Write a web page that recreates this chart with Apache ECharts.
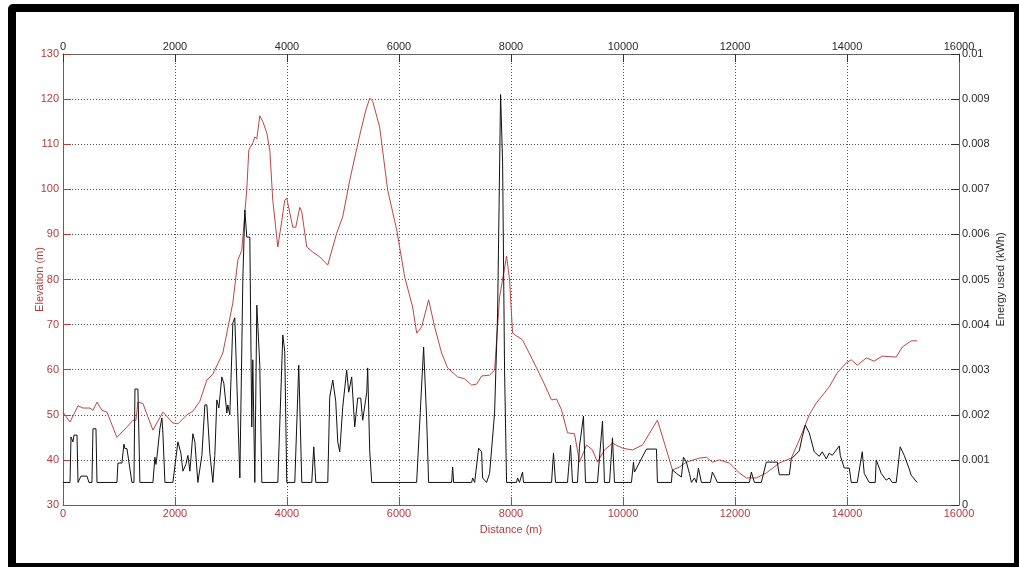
<!DOCTYPE html>
<html>
<head>
<meta charset="utf-8">
<script src="https://cdn.jsdelivr.net/npm/echarts@6/dist/echarts.min.js"></script>
<style>
  html, body { margin: 0; padding: 0; background: #fff; }
  #chart { position: absolute; left: 0; top: 0; width: 1019px; height: 568px; }
  #frame {
    position: absolute; left: 8px; top: 4px; width: 1011px; height: 563px;
    box-sizing: border-box; border-style: solid; border-color: #000;
    border-width: 8px 5px 4px 8px; border-radius: 5px 0 0 0; pointer-events: none;
  }
</style>
</head>
<body>
<div id="chart"></div>
<div id="frame"></div>
<script>
// Elevation profile along the route (distance in m, elevation in m)
const elevDist = [0,125,268,357,482,535,607,696,785,963,1142,1249,1302,1338,1427,1606,1784,1962,2052,2212,2319,2444,2569,2676,2854,3033,3122,3193,3282,3318,3390,3425,3461,3514,3568,3639,3693,3746,3836,3907,3960,3996,4103,4157,4228,4264,4353,4460,4585,4728,4888,4995,5120,5299,5406,5478,5530,5655,5798,5959,6101,6244,6316,6405,6529,6636,6761,6868,7047,7172,7297,7386,7475,7618,7707,7796,7921,7975,8028,8206,8385,8563,8724,8813,8902,9009,9134,9223,9348,9455,9544,9669,9812,9990,10169,10347,10615,10740,10882,11007,11132,11364,11489,11596,11721,11899,12078,12203,12381,12559,12791,13005,13148,13326,13451,13683,13826,13987,14076,14183,14343,14486,14629,14879,14986,15146,15253];
const elevation = [50.6,48.4,52.0,51.5,51.5,51.0,52.8,51.0,50.6,45.0,47.3,48.8,48.8,52.8,52.5,46.6,50.6,48.2,48.0,50.0,50.8,53.0,57.7,59.0,63.7,74.8,84.3,86.5,100.0,108.7,110.3,111.6,111.2,116.3,115.0,112.5,108.7,97.6,87.2,93.0,97.6,98.0,91.6,91.6,96.0,95.0,87.2,86.1,85.0,83.2,90.3,93.9,102.0,112.0,117.5,120.2,119.5,113.8,99.8,91.0,80.6,73.9,68.1,69.5,75.5,69.5,63.7,60.4,58.4,58.0,56.6,56.8,58.6,58.8,59.9,76.1,85.2,79.9,68.1,66.6,62.2,57.7,53.3,53.5,51.1,46.0,45.8,39.5,43.3,42.2,39.5,42.2,43.7,42.6,42.2,43.3,48.8,43.7,37.8,38.4,39.5,40.4,40.6,39.5,40.0,39.3,37.1,36.0,36.0,37.1,39.3,40.4,44.4,50.0,52.6,56.2,59.3,61.5,62.2,61.0,62.6,61.9,63.0,62.8,65.0,66.4,66.4];

// Energy used per segment (distance in m, energy in kWh)
const energyDist = [0,125,143,178,196,250,268,321,428,464,517,535,589,607,963,981,1052,1088,1106,1142,1195,1231,1267,1285,1338,1373,1606,1641,1659,1677,1731,1766,1784,1820,1962,2052,2105,2141,2194,2230,2266,2319,2355,2408,2444,2480,2533,2569,2622,2676,2711,2747,2783,2836,2872,2926,2943,2979,3033,3068,3158,3211,3247,3282,3336,3371,3389,3425,3461,3514,3550,3836,3925,3960,3996,4139,4210,4264,4442,4478,4514,4728,4763,4817,4870,4906,4942,4995,5066,5102,5155,5209,5263,5316,5352,5424,5441,5477,5513,6315,6440,6494,6529,6940,6958,6976,7297,7315,7351,7422,7475,7493,7564,7618,7707,7761,7814,7850,7885,7921,8099,8117,8152,8206,8224,8724,8759,8795,9009,9063,9098,9187,9223,9294,9330,9544,9634,9669,9759,9812,9848,10151,10187,10205,10419,10597,10615,10865,10882,10954,11043,11079,11132,11186,11222,11275,11311,11347,11400,11560,11596,11650,11685,12257,12292,12346,12470,12559,12756,12791,12970,13005,13148,13201,13255,13326,13415,13505,13558,13630,13683,13737,13862,13880,13951,14041,14076,14183,14272,14308,14397,14504,14522,14611,14700,14754,14807,14879,14950,15022,15111,15146,15253];
const energy = [0.0005,0.0005,0.00151,0.0014,0.00155,0.00155,0.0005,0.00064,0.00064,0.0005,0.0005,0.00169,0.00169,0.0005,0.0005,0.00093,0.00093,0.00135,0.00125,0.00125,0.0008,0.0005,0.0005,0.00257,0.00257,0.0005,0.0005,0.00106,0.0009,0.00106,0.0017,0.00193,0.0016,0.0005,0.0005,0.0014,0.00115,0.00075,0.0009,0.0011,0.00075,0.00158,0.0014,0.0005,0.0008,0.0011,0.00222,0.00222,0.00115,0.0005,0.0011,0.00233,0.00215,0.00284,0.0027,0.00204,0.00222,0.002,0.00404,0.00415,0.0006,0.00499,0.00654,0.00594,0.00594,0.00173,0.00322,0.0005,0.00443,0.0031,0.0005,0.0005,0.00377,0.0034,0.0005,0.0005,0.0031,0.0005,0.0005,0.00129,0.0005,0.0005,0.00239,0.00277,0.0023,0.0014,0.00118,0.00217,0.00299,0.0025,0.00284,0.00173,0.00237,0.00237,0.00188,0.0025,0.00304,0.0012,0.0005,0.0005,0.0035,0.0019,0.0005,0.0005,0.00084,0.0005,0.0005,0.0006,0.0005,0.00126,0.00118,0.0006,0.0005,0.0007,0.00204,0.00426,0.0091,0.0076,0.003,0.0005,0.0005,0.0006,0.0005,0.00073,0.0005,0.0005,0.00115,0.0005,0.0005,0.00133,0.0005,0.0005,0.0013,0.00197,0.0005,0.0005,0.00186,0.0005,0.0005,0.00149,0.0005,0.0005,0.00095,0.00073,0.00124,0.00124,0.0005,0.0005,0.00078,0.0007,0.00062,0.00106,0.00095,0.0007,0.0005,0.0006,0.0005,0.00082,0.0005,0.0005,0.00073,0.0006,0.0005,0.0005,0.00073,0.0005,0.0005,0.00095,0.00095,0.00067,0.00067,0.00102,0.0012,0.00151,0.00177,0.0016,0.00118,0.00108,0.00118,0.00102,0.00115,0.0011,0.00131,0.0011,0.00082,0.00082,0.0005,0.0005,0.00118,0.0007,0.0005,0.0005,0.001,0.0007,0.00055,0.0006,0.0005,0.0005,0.00129,0.0011,0.0008,0.00066,0.0005];

const RED = '#b83a3a';
const DARK = '#2a2a2a';
const FONT = 'Liberation Sans, Arial, sans-serif';

const pairs = (xs, ys) => xs.map((x, i) => [x, ys[i]]);
const plain = v => String(v);

const chart = echarts.init(document.getElementById('chart'), null, { renderer: 'canvas' });
chart.setOption({
  animation: false,
  backgroundColor: '#fff',
  textStyle: { fontFamily: FONT },
  grid: { left: 63, right: 60, top: 54, bottom: 63, containLabel: false },
  xAxis: [
    {
      type: 'value', position: 'bottom', min: 0, max: 16000, interval: 2000,
      name: 'Distance (m)', nameLocation: 'middle', nameGap: 19, nameMoveOverlap: false,
      nameTextStyle: { color: RED, fontSize: 11, fontFamily: FONT },
      axisLine: { show: true, onZero: false, lineStyle: { color: RED, width: 1 } },
      axisTick: { show: true, inside: true, length: 8, lineStyle: { color: RED } },
      axisLabel: { color: RED, fontSize: 11, margin: 3, fontFamily: FONT, formatter: plain },
      splitLine: { show: true, lineStyle: { color: '#555', type: [1, 2], width: 1 } }
    },
    {
      type: 'value', position: 'top', min: 0, max: 16000, interval: 2000,
      axisLine: { show: true, onZero: false, lineStyle: { color: '#666', width: 1 } },
      axisTick: { show: true, inside: true, length: 8, lineStyle: { color: '#333' } },
      axisLabel: { color: DARK, fontSize: 11, margin: 2, fontFamily: FONT, formatter: plain },
      splitLine: { show: false }
    }
  ],
  yAxis: [
    {
      type: 'value', position: 'left', min: 30, max: 130, interval: 10,
      name: 'Elevation (m)', nameLocation: 'middle', nameGap: 18, nameRotate: 90,
      nameMoveOverlap: false,
      nameTextStyle: { color: RED, fontSize: 11, fontFamily: FONT },
      axisLine: { show: true, onZero: false, lineStyle: { color: RED, width: 1 } },
      axisTick: { show: true, inside: true, length: 8, lineStyle: { color: RED } },
      axisLabel: { color: RED, fontSize: 11, margin: 4, fontFamily: FONT, formatter: plain },
      splitLine: { show: true, lineStyle: { color: '#555', type: [1, 2], width: 1 } }
    },
    {
      type: 'value', position: 'right', min: 0, max: 0.01, interval: 0.001,
      name: 'Energy used (kWh)', nameLocation: 'middle', nameGap: 36, nameRotate: 90,
      nameMoveOverlap: false,
      nameTextStyle: { color: DARK, fontSize: 11, fontFamily: FONT },
      axisLine: { show: true, onZero: false, lineStyle: { color: '#666', width: 1 } },
      axisTick: { show: true, inside: true, length: 8, lineStyle: { color: '#333' } },
      axisLabel: {
        color: DARK, fontSize: 11, margin: 3, fontFamily: FONT,
        formatter: v => String(+v.toFixed(3))
      },
      splitLine: { show: false }
    }
  ],
  series: [
    {
      name: 'Elevation', type: 'line', xAxisIndex: 0, yAxisIndex: 0,
      data: pairs(elevDist, elevation), showSymbol: false, smooth: false,
      lineStyle: { color: '#c04545', width: 1 }, z: 2
    },
    {
      name: 'Energy', type: 'line', xAxisIndex: 0, yAxisIndex: 1,
      data: pairs(energyDist, energy), showSymbol: false, smooth: false,
      lineStyle: { color: '#111', width: 1 }, z: 3
    }
  ]
});
</script>
</body>
</html>
